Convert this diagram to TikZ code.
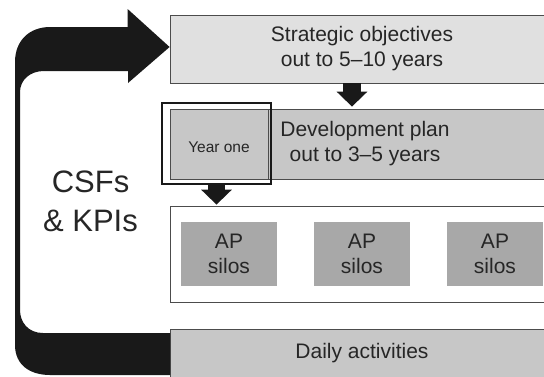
\documentclass[tikz,border=0pt]{standalone}
\usepackage{fontspec}
\setmainfont{Liberation Sans}
\usetikzlibrary{arrows.meta}

\begin{document}
\begin{tikzpicture}[x=1pt, y=-1pt, node distance=133pt, thick]
        \tikzstyle{box} = [rectangle, draw=black!70, line width=0.8pt, inner sep=0pt, align=center, text=black!85, font=\fontsize{21}{25}\selectfont]
        \tikzstyle{silo} = [rectangle, fill=black!34, minimum width=96pt, minimum height=64pt, inner sep=0pt, align=center, text=black!85, font=\fontsize{21}{25}\selectfont]
        \tikzstyle{line} = [draw=black!90, line width=18pt, -{Triangle[width=30pt,length=15pt]}]

        \useasboundingbox (0,0) rectangle (544,376);
        \clip (0,0) rectangle (544,376);

        \node [box, fill=black!12, minimum width=384pt, minimum height=68pt] (top) at (362,49) {Strategic objectives\\out to 5–10 years};
        \node [box, fill=black!22, minimum width=390pt, minimum height=70pt] (dev) at (365,144) {Development plan\\out to 3–5 years};
        \node [box, fill=black!22, minimum width=98pt, minimum height=70pt, text height=17pt, font=\fontsize{15.5}{18}\selectfont] (year) at (219,144) {Year one};
        \node [rectangle, draw=black!90, line width=2.5pt, minimum width=109pt, minimum height=81pt] (yearframe) at (216.5,143.5) {};
        \node [box, fill=white, minimum width=390pt, minimum height=96pt] (silobox) at (365,254) {};
        \node [silo] (silo1) at (229,254) {AP\\silos};
        \node [silo, right of=silo1] (silo2) {AP\\silos};
        \node [silo, right of=silo2] (silo3) {AP\\silos};
        \node [box, fill=black!22, minimum width=384pt, minimum height=49pt] (daily) at (362,353.5) {Daily activities};
        \node [align=center, text=black!85, font=\fontsize{31}{39}\selectfont] (csf) at (90.5,201) {CSFs\\\& KPIs};

        \coordinate (a1) at ([xshift=-10pt]top.south);
        \path [line, shorten >=2pt] (a1) -- (a1 |- dev.north);
        \path [line, line width=17pt, shorten >=1pt] (yearframe.south) -- (yearframe.south |- silobox.north);

        \fill [black!90] ([yshift=2pt]top.west) -- ++(-42,-38) -- ++(0,18) -- (50,27)
            .. controls (30,27) and (15,40) .. (15,62) -- (15,345)
            .. controls (15,365) and (30,375) .. (50,375) -- (170,375) -- (170,333) -- (43,333)
            .. controls (28,333) and (20,322) .. (20,310) -- (20,92)
            .. controls (20,80) and (30,71) .. (44,71) -- (128,71) -- (128,83) -- cycle;
    \end{tikzpicture}
\end{document}
